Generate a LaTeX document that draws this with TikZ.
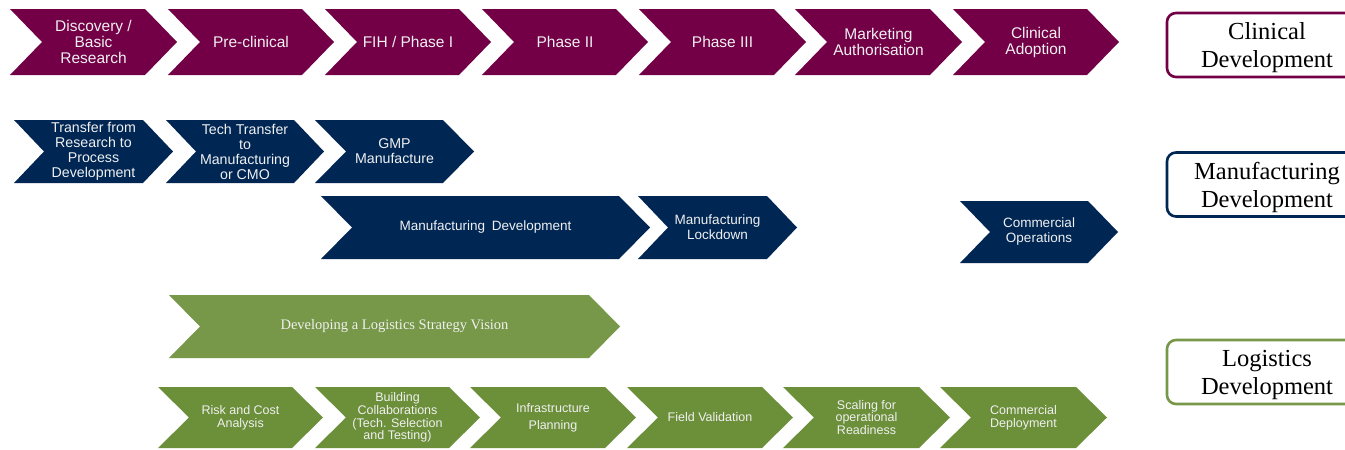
\documentclass[tikz,border=0pt]{standalone}
\usepackage{fontspec}
\setmainfont{Liberation Sans}
\newfontfamily\serifface{Liberation Serif}
\definecolor{purp}{RGB}{115,0,70}
\definecolor{navy}{RGB}{0,38,84}
\definecolor{grnA}{RGB}{119,152,72}
\definecolor{grnB}{RGB}{108,143,58}
\definecolor{txtlight}{RGB}{240,240,240}
% #1 name, #2 left x, #3 top y, #4 width, #5 height, #6 point depth, #7 style, #8 text
\newcommand\chev[8]{%
  \fill[#7] (#2,#3) -- ({#2+#4-#6},#3) -- ({#2+#4},{#3+#5/2}) -- ({#2+#4-#6},{#3+#5}) -- (#2,{#3+#5}) -- ({#2+#6},{#3+#5/2}) -- cycle;
  \node[#7,fill=none,chevtext] (#1) at ({#2+#4/2},{#3+#5/2}) {#8};}
\begin{document}
\begin{tikzpicture}[x=1pt,y=-1pt,
  chevtext/.style={text=txtlight,align=center,inner sep=0pt},
  rowA/.style={fill=purp,font=\fontsize{15.5}{16}\selectfont},
  rowB/.style={fill=navy,font=\fontsize{14.2}{15}\selectfont},
  rowC/.style={fill=navy,font=\fontsize{13.5}{15}\selectfont},
  rowD/.style={fill=grnA,font=\serifface\fontsize{14.5}{16}\selectfont},
  rowE/.style={fill=grnB,font=\fontsize{12.5}{12.6}\selectfont},
  labbox/.style={draw,line width=2.6pt,rounded corners=9pt,fill=white,minimum width=200pt,minimum height=64pt,inner sep=0pt},
  labtext/.style={align=center,inner sep=0pt,font=\serifface\fontsize{24.5}{28}\selectfont}]
\useasboundingbox (0,0) rectangle (1345,450);
\fill[white] (0,0) rectangle (1345,450);
\clip (0,0) rectangle (1345,450);
% Row 1 - clinical
\chev{c1}{10}{9}{167}{66}{32}{rowA}{Discovery /\\Basic\\Research}
\chev{c2}{168}{9}{166}{66}{32}{rowA}{Pre-clinical}
\chev{c3}{325}{9}{166}{66}{32}{rowA}{FIH / Phase I}
\chev{c4}{482}{9}{166}{66}{32}{rowA}{Phase II}
\chev{c5}{639}{9}{167}{66}{32}{rowA}{Phase III}
\chev{c6}{795}{9}{167}{66}{32}{rowA}{Marketing\\Authorisation}
\chev{c7}{953}{9}{166}{66}{32}{rowA}{Clinical\\Adoption}
% Row 2 - manufacturing
\chev{m1}{14}{120}{159}{63}{30}{rowB}{Transfer from\\Research to\\Process\\Development}
\chev{m2}{166}{120}{158}{63}{30}{rowB}{Tech Transfer\\to\\Manufacturing\\or CMO}
\chev{m3}{315}{120}{159}{63}{31}{rowB}{GMP\\Manufacture}
% Row 3
\chev{m4}{321}{196}{329}{63}{31}{rowC}{Manufacturing\hspace{0.5em}Development}
\chev{m5}{638}{196}{159}{63}{30}{rowC}{Manufacturing\\Lockdown}
\chev{m6}{960}{201}{158}{62}{30}{rowC}{Commercial\\Operations}
% Row 4
\chev{l0}{169}{295}{451}{63}{31}{rowD}{Developing a Logistics Strategy Vision}
% Row 5
\chev{l1}{158}{387}{165}{61}{31}{rowE}{Risk and Cost\\Analysis}
\chev{l2}{315}{387}{165}{61}{31}{rowE}{Building\\Collaborations\\(Tech. Selection\\and Testing)}
\chev{l3}{470}{387}{166}{61}{31}{rowE}{Infrastructure\\[4pt]Planning}
\chev{l4}{627}{387}{166}{61}{31}{rowE}{Field Validation}
\chev{l5}{783}{387}{167}{61}{31}{rowE}{Scaling for\\operational\\Readiness}
\chev{l6}{940}{387}{167}{61}{31}{rowE}{Commercial\\Deployment}
% Labels
\node[labbox,draw=purp] (boxC) at (1267,45) {};
\node[labtext] (labC) at (1267,47.5) {Clinical\\Development};
\node[labbox,draw=navy] (boxM) at (1267,184.5) {};
\node[labtext] (labM) at (1267,187) {Manufacturing\\Development};
\node[labbox,draw=grnA] (boxL) at (1267,372) {};
\node[labtext] (labL) at (1267,374.5) {Logistics\\Development};
\end{tikzpicture}
\end{document}
